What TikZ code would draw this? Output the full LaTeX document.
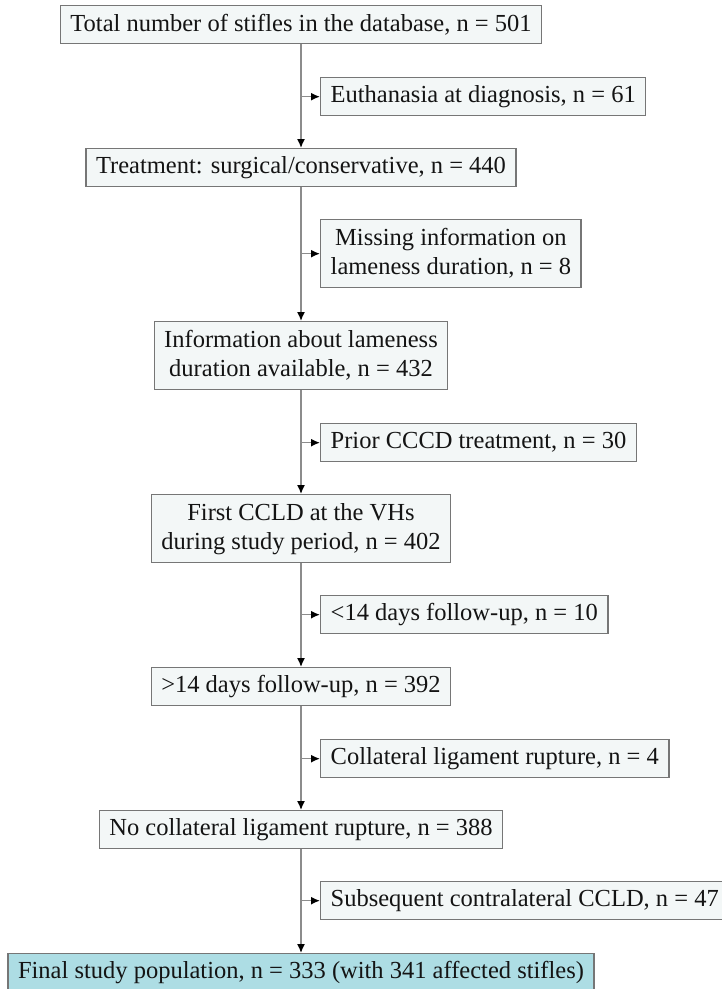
\documentclass[tikz,border=0pt]{standalone}
\usepackage{fontspec}
\setmainfont{Liberation Serif}
\usepackage{xcolor}
\usepackage{tikz}
\usetikzlibrary{arrows.meta,positioning}

\definecolor{boxfill}{HTML}{F3F7F7}
\definecolor{boxline}{HTML}{767676}
\definecolor{flowline}{HTML}{8C8C8C}
\definecolor{finalfill}{HTML}{ADDDE4}

\tikzset{
  flowbox/.style={draw=boxline, fill=boxfill, line width=1.4pt, inner xsep=10pt,
    inner ysep=2pt, minimum height=38pt, align=center, text=black!92,
    font=\fontsize{24.5}{29}\selectfont},
  twoline/.style={minimum height=68pt},
  mainbox/.style={flowbox, anchor=north},
  sidebox/.style={flowbox, anchor=north west},
  flow/.style={draw=flowline, line width=1.5pt,
    -{Latex[length=9pt,width=8pt,color=black]}}
}

\begin{document}
\begin{tikzpicture}[x=1pt,y=-1pt]
\useasboundingbox (0,0) rectangle (722,989);
\def\mainx{301}
\def\sidex{320}

\node[mainbox] (total) at (\mainx,5) {Total number of stifles in the database, n = 501};
\node[sidebox] (euth) at (\sidex,77) {Euthanasia at diagnosis, n = 61};
\node[mainbox] (treat) at (\mainx,148) {Treatment: surgical/conservative, n = 440};
\node[sidebox, twoline] (miss) at (\sidex,219) {Missing information on\\lameness duration, n = 8};
\node[mainbox, twoline] (info) at (\mainx,321) {Information about lameness\\duration available, n = 432};
\node[sidebox] (prior) at (\sidex,423) {Prior CCCD treatment, n = 30};
\node[mainbox, twoline] (first) at (\mainx,494) {First CCLD at the VHs\\during study period, n = 402};
\node[sidebox] (short) at (\sidex,595) {<14 days follow-up, n = 10};
\node[mainbox] (long) at (\mainx,667) {>14 days follow-up, n = 392};
\node[sidebox] (coll) at (\sidex,739) {Collateral ligament rupture, n = 4};
\node[mainbox] (nocoll) at (\mainx,810) {No collateral ligament rupture, n = 388};
\node[sidebox] (subs) at (\sidex,881) {Subsequent contralateral CCLD, n = 47};
\node[mainbox, fill=finalfill] (final) at (\mainx,953) {Final study population, n = 333 (with 341 affected stifles)};

% main column
\foreach \a/\b in {total/treat, treat/info, info/first, first/long, long/nocoll, nocoll/final}
  \draw[flow] (\a) -- (\b);
% exclusions
\foreach \a/\b in {total/euth, treat/miss, info/prior, first/short, long/coll, nocoll/subs}
  \draw[flow] (\a |- \b.west) -- (\b);
\end{tikzpicture}
\end{document}
